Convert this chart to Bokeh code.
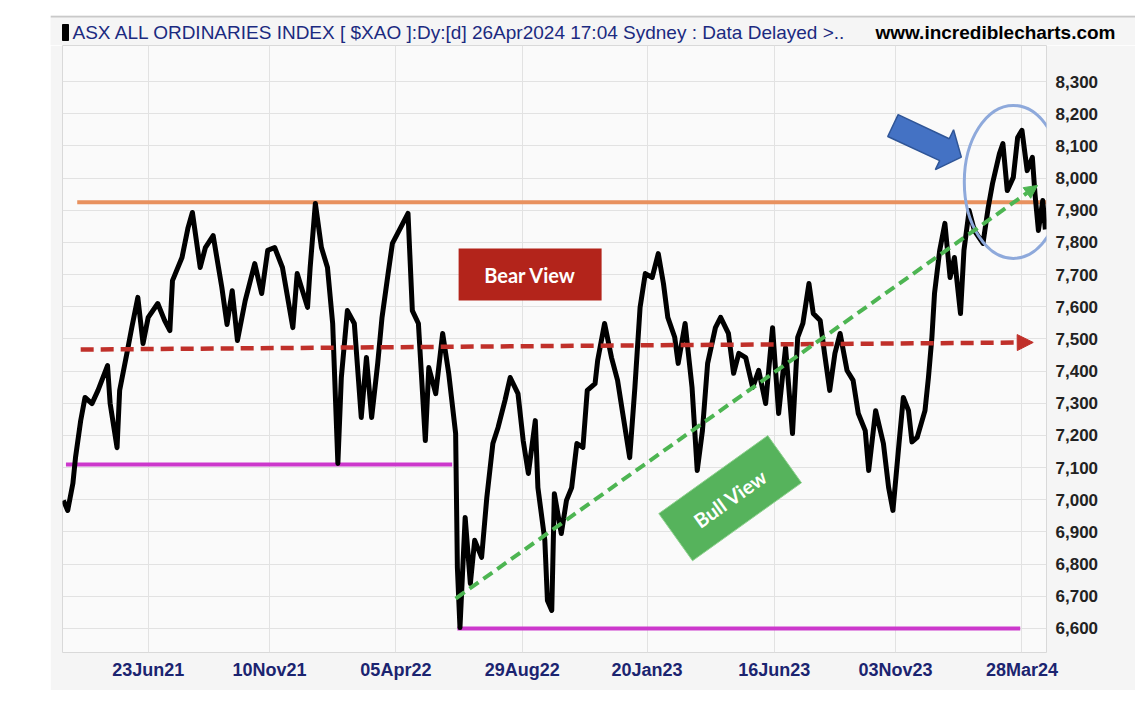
import pandas as pd
from bokeh.plotting import figure
from bokeh.models import (Range1d, FixedTicker, NumeralTickFormatter, Arrow,
                          NormalHead, Spacer)
from bokeh.layouts import row, column
from bokeh.core.properties import value
from bokeh.embed import file_html
from bokeh.resources import INLINE

# ---------------- data ----------------
dates = [
    "2021-03-17", "2021-03-22", "2021-03-28", "2021-03-31", "2021-04-06", "2021-04-11",
    "2021-04-19", "2021-04-26", "2021-05-07", "2021-05-10", "2021-05-18", "2021-05-21",
    "2021-05-30", "2021-06-04", "2021-06-11", "2021-06-17", "2021-06-23", "2021-07-04",
    "2021-07-12", "2021-07-18", "2021-07-21", "2021-08-01", "2021-08-08", "2021-08-13",
    "2021-08-22", "2021-08-28", "2021-09-06", "2021-09-16", "2021-09-22", "2021-09-28",
    "2021-10-04", "2021-10-13", "2021-10-24", "2021-11-01", "2021-11-08", "2021-11-16",
    "2021-11-25", "2021-12-07", "2021-12-12", "2021-12-24", "2021-12-27", "2022-01-02",
    "2022-01-09", "2022-01-16", "2022-01-22", "2022-01-28", "2022-02-01", "2022-02-08",
    "2022-02-16", "2022-02-24", "2022-03-02", "2022-03-08", "2022-03-15", "2022-03-20",
    "2022-03-27", "2022-04-01", "2022-04-07", "2022-04-19", "2022-04-24", "2022-05-01",
    "2022-05-09", "2022-05-13", "2022-05-21", "2022-05-29", "2022-06-05", "2022-06-13",
    "2022-06-15", "2022-06-18", "2022-06-24", "2022-06-30", "2022-07-05", "2022-07-13",
    "2022-07-19", "2022-07-26", "2022-08-01", "2022-08-09", "2022-08-15", "2022-08-24",
    "2022-08-30", "2022-09-05", "2022-09-13", "2022-09-16", "2022-09-24", "2022-09-27",
    "2022-10-02", "2022-10-05", "2022-10-13", "2022-10-19", "2022-10-25", "2022-10-31",
    "2022-11-07", "2022-11-12", "2022-11-21", "2022-11-24", "2022-12-02", "2022-12-10",
    "2022-12-17", "2022-12-23", "2022-12-31", "2023-01-06", "2023-01-12", "2023-01-18",
    "2023-01-26", "2023-02-02", "2023-02-08", "2023-02-13", "2023-02-21", "2023-02-25",
    "2023-03-05", "2023-03-13", "2023-03-19", "2023-03-25", "2023-03-31", "2023-04-09",
    "2023-04-15", "2023-04-24", "2023-04-30", "2023-05-06", "2023-05-14", "2023-05-22",
    "2023-05-29", "2023-06-06", "2023-06-14", "2023-06-21", "2023-06-29", "2023-07-07",
    "2023-07-13", "2023-07-19", "2023-07-26", "2023-07-31", "2023-08-08", "2023-08-13",
    "2023-08-19", "2023-08-25", "2023-08-31", "2023-09-08", "2023-09-15", "2023-09-21",
    "2023-09-29", "2023-10-03", "2023-10-11", "2023-10-20", "2023-10-26", "2023-10-31",
    "2023-11-07", "2023-11-12", "2023-11-18", "2023-11-22", "2023-11-28", "2023-12-07",
    "2023-12-11", "2023-12-15", "2023-12-18", "2023-12-24", "2023-12-30", "2024-01-05",
    "2024-01-10", "2024-01-17", "2024-01-21", "2024-01-27", "2024-02-02", "2024-02-12",
    "2024-02-18", "2024-02-23", "2024-03-02", "2024-03-06", "2024-03-11", "2024-03-18",
    "2024-03-23", "2024-03-28", "2024-04-03", "2024-04-09", "2024-04-12", "2024-04-16",
    "2024-04-21", "2024-04-24",
]
closes = [
    6998, 6967, 7051, 7131, 7246, 7318,
    7299, 7340, 7417, 7300, 7162, 7340,
    7464, 7535, 7629, 7486, 7567, 7610,
    7557, 7526, 7681, 7753, 7846, 7893,
    7722, 7784, 7821, 7660, 7545, 7650,
    7495, 7619, 7734, 7641, 7775, 7784,
    7722, 7535, 7703, 7598, 7722, 7921,
    7784, 7722, 7548, 7113, 7380, 7588,
    7548, 7256, 7442, 7256, 7424, 7567,
    7703, 7797, 7828, 7890, 7588, 7548,
    7184, 7411, 7330, 7517, 7393, 7206,
    6790, 6603, 6945, 6740, 6874, 6821,
    7007, 7175, 7225, 7309, 7380, 7330,
    7184, 7082, 7246, 7038, 6874, 6687,
    6656, 7019, 6895, 6998, 7038, 7175,
    7163, 7340, 7361, 7433, 7548, 7442,
    7371, 7268, 7131, 7349, 7598, 7703,
    7691, 7765, 7672, 7567, 7505, 7424,
    7548, 7349, 7091, 7215, 7424, 7535,
    7567, 7517, 7393, 7455, 7442, 7349,
    7402, 7299, 7535, 7268, 7473, 7206,
    7505, 7548, 7672, 7579, 7557, 7455,
    7340, 7455, 7517, 7402, 7371, 7268,
    7215, 7091, 7277, 7175, 7038, 6967,
    7175, 7318, 7277, 7180, 7194, 7277,
    7380, 7505, 7641, 7775, 7859, 7691,
    7753, 7579, 7775, 7899, 7837, 7797,
    7908, 7983, 8076, 8107, 7961, 8002,
    8126, 8148, 8023, 8064, 7952, 7837,
    7930, 7840,
]

y_ticks = list(range(6600, 8301, 100))
x_tick_dates = ["2021-06-23", "2021-11-10", "2022-04-05", "2022-08-29",
                "2023-01-20", "2023-06-16", "2023-11-03", "2024-03-28"]
x_tick_labels = ["23Jun21", "10Nov21", "05Apr22", "29Aug22",
                 "20Jan23", "16Jun23", "03Nov23", "28Mar24"]

# annotation levels / anchors
resistance = {"start": "2021-04-02", "end": "2024-04-25", "level": 7925}
support_a = {"start": "2021-03-20", "end": "2022-06-09", "level": 7110}
support_b = {"start": "2022-06-15", "end": "2024-03-26", "level": 6600}
bear_arrow = {"start": "2021-04-06", "end": "2024-04-10", "y0": 7467, "y1": 7489}
bull_arrow = {"start": "2022-06-13", "end": "2024-04-15", "y0": 6693, "y1": 7977}
bear_box = {"date": "2022-09-07", "level": 7700, "text": "Bear View"}
bull_box = {"date": "2023-04-26", "level": 7005, "text": "Bull View"}
focus_ellipse = {"date": "2024-03-18", "level": 7988}
pointer_dates = ["2023-10-25", "2023-12-24", "2023-12-19", "2024-01-18",
                 "2024-01-09", "2024-01-04", "2023-11-06"]
pointer_levels = [8129, 8054, 8026, 8065, 8150, 8122, 8197]

header_text = "ASX ALL ORDINARIES INDEX [ $XAO ]:Dy:[d]  26Apr2024 17:04 Sydney : Data Delayed >.."
site_text = "www.incrediblecharts.com"

PANEL = "#F5F5F5"
FIG_W = 1085


def ms(d):
    return int(pd.Timestamp(d).value // 10**6)


x = pd.to_datetime(dates)

# ---------------- header strip (page-pixel coordinates, y downward) ----------------
hp = figure(width=FIG_W, height=30, output_backend="svg", toolbar_location=None,
            x_range=Range1d(50, 50 + FIG_W), y_range=Range1d(45, 15), title=None,
            min_border=0)
hp.axis.visible = False
hp.grid.visible = False
hp.outline_line_color = None
hp.background_fill_color = PANEL
hp.border_fill_color = PANEL
hp.line([50, 50 + FIG_W], [16, 16], line_color="#C9C9C9", line_width=2)
hp.rect(x=[65], y=[32], width=6, height=16, fill_color="black", line_color="black")
hp.text(x=[72], y=[32], text=[header_text], text_baseline="middle",
        text_font=value("Liberation Sans Narrow, Liberation Sans"),
        text_font_size="19px", text_color="#1B2A80")
hp.text(x=[1115], y=[32], text=[site_text], text_baseline="middle", text_align="right",
        text_font=value("Liberation Sans"), text_font_style="bold",
        text_font_size="19px", text_color="black")

# ---------------- main figure ----------------
p = figure(width=FIG_W, height=645, output_backend="svg", toolbar_location=None,
           x_axis_type="datetime", y_axis_location="right", title=None,
           x_range=Range1d(ms("2021-03-16"), ms("2024-04-25 08:00")),
           y_range=Range1d(6525.4, 8411.9),
           min_border_left=12, min_border_right=89, min_border_top=0,
           min_border_bottom=38)
p.background_fill_color = "#FAFAFA"
p.border_fill_color = PANEL
p.outline_line_color = "#D9D9D9"

p.xgrid.grid_line_color = "#E2E2E2"
p.ygrid.grid_line_color = "#E2E2E2"

xt = [ms(d) for d in x_tick_dates]
p.xaxis.ticker = FixedTicker(ticks=xt)
p.xaxis.major_label_overrides = {t: lab for t, lab in zip(xt, x_tick_labels)}
p.xaxis.major_label_text_font = "Liberation Sans Narrow, Liberation Sans"
p.xaxis.major_label_text_font_style = "bold"
p.xaxis.major_label_text_font_size = "18px"
p.xaxis.major_label_text_color = "#1B2470"
p.xaxis.axis_line_color = None
p.xaxis.major_tick_line_color = None
p.xaxis.minor_tick_line_color = None
p.xaxis.major_label_standoff = 1

p.yaxis.ticker = FixedTicker(ticks=y_ticks)
p.yaxis.formatter = NumeralTickFormatter(format="0,0")
p.yaxis.major_label_text_font = "Liberation Sans"
p.yaxis.major_label_text_font_style = "bold"
p.yaxis.major_label_text_font_size = "17px"
p.yaxis.major_label_text_color = "#222222"
p.yaxis.axis_line_color = None
p.yaxis.major_tick_line_color = None
p.yaxis.minor_tick_line_color = None
p.yaxis.major_label_standoff = 3

# horizontal support / resistance lines
p.line([pd.Timestamp(resistance["start"]), pd.Timestamp(resistance["end"])],
       [resistance["level"]] * 2, line_color="#E8915E", line_width=4)
for s in (support_a, support_b):
    p.line([pd.Timestamp(s["start"]), pd.Timestamp(s["end"])], [s["level"]] * 2,
           line_color="#CC38CC", line_width=4)

# price line
p.line(x, closes, line_color="black", line_width=5, line_join="round")

# bear (red dashed) arrow
p.add_layout(Arrow(x_start=ms(bear_arrow["start"]), y_start=bear_arrow["y0"],
                   x_end=ms(bear_arrow["end"]), y_end=bear_arrow["y1"],
                   line_color="#C0302A", line_width=4.5, line_dash="13 7",
                   end=NormalHead(size=16, fill_color="#C0302A", line_color="#C0302A")))
# bull (green dashed) arrow
p.add_layout(Arrow(x_start=ms(bull_arrow["start"]), y_start=bull_arrow["y0"],
                   x_end=ms(bull_arrow["end"]), y_end=bull_arrow["y1"],
                   line_color="#4DB552", line_width=4, line_dash="11 6",
                   end=NormalHead(size=13, fill_color="#4DB552", line_color="#4DB552")))

# boxes with text
p.rect(x=[pd.Timestamp(bear_box["date"])], y=[bear_box["level"]], width=143, height=52,
       width_units="screen", height_units="screen", fill_color="#B3241B", line_color=None)
p.text(x=[pd.Timestamp(bear_box["date"])], y=[bear_box["level"]], text=[bear_box["text"]],
       text_align="center", text_baseline="middle", text_color="white",
       text_font=value("Lato"), text_font_style="bold", text_font_size="20px")

ang = 0.621
p.rect(x=[pd.Timestamp(bull_box["date"])], y=[bull_box["level"]], width=134, height=58,
       width_units="screen", height_units="screen", angle=ang,
       fill_color="#56B35C", line_color="#8FD18F", line_width=1)
p.text(x=[pd.Timestamp(bull_box["date"])], y=[bull_box["level"]], text=[bull_box["text"]],
       angle=ang, text_align="center", text_baseline="middle", text_color="white",
       text_font=value("Lato"), text_font_style="bold", text_font_size="20px")

# blue focus ellipse and pointer arrow
p.ellipse(x=[pd.Timestamp(focus_ellipse["date"])], y=[focus_ellipse["level"]],
          width=98, height=153, width_units="screen", height_units="screen",
          fill_color=None, line_color="#8EA9DB", line_width=3)
p.patch(pd.to_datetime(pointer_dates), pointer_levels, fill_color="#4472C4",
        line_color="#2F5597", line_width=1.5)

layout = column(Spacer(height=15),
                row(Spacer(width=50, height=30), hp),
                row(Spacer(width=50, height=645), p))
open("out.html", "w").write(file_html(layout, INLINE))
